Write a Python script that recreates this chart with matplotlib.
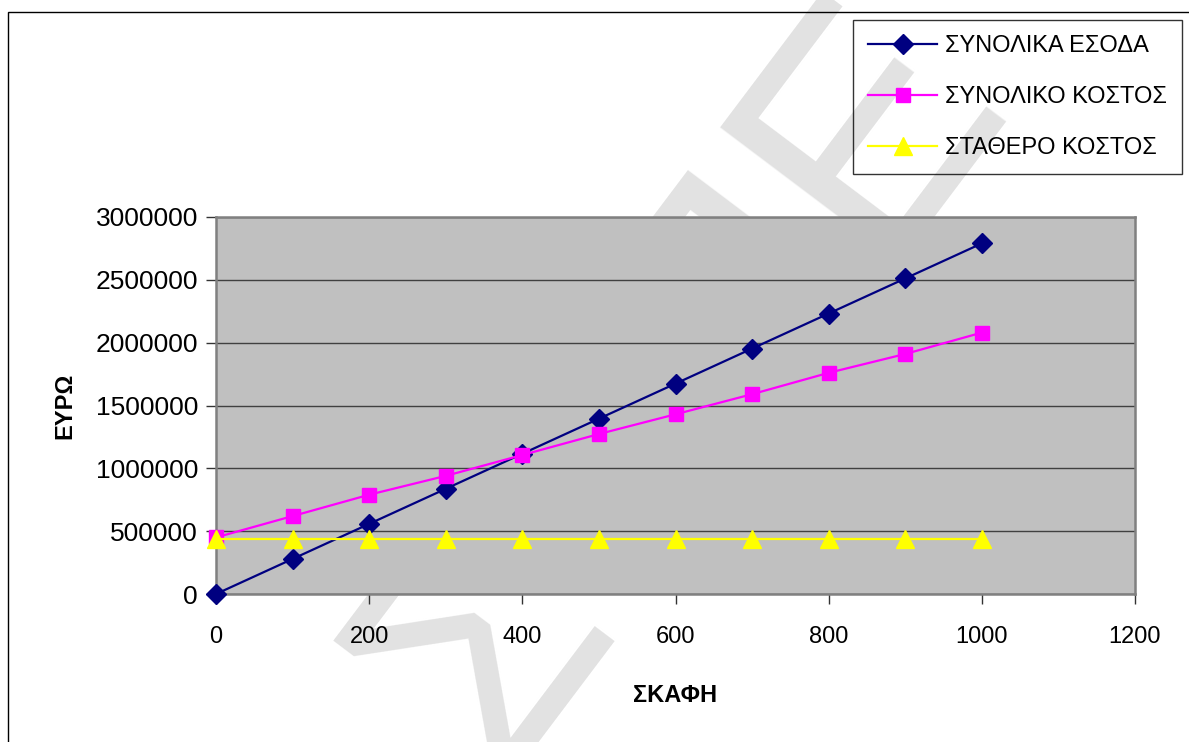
import matplotlib.pyplot as plt
from matplotlib.patches import Rectangle

plt.rcParams['font.family'] = ['Liberation Sans', 'DejaVu Sans']

# units of boats
skafi = [0, 100, 200, 300, 400, 500, 600, 700, 800, 900, 1000]
# total revenue
esoda = [0, 279000, 558000, 837000, 1116000, 1395000, 1674000, 1953000, 2232000, 2511000, 2790000]
# total cost
kostos = [450000, 620000, 790000, 940000, 1106000, 1273000, 1430000, 1590000, 1760000, 1910000, 2080000]
# fixed cost
stathero = [440000] * 11

xticks = [0, 200, 400, 600, 800, 1000, 1200]
yticks = [0, 500000, 1000000, 1500000, 2000000, 2500000, 3000000]

W, H = 1189, 742
fig = plt.figure(figsize=(W / 100, H / 100), dpi=100)
ax = fig.add_axes([216 / W, 1 - 594 / H, (1135 - 216) / W, (594 - 217) / H])
ax.set_facecolor('#c0c0c0')

ax.plot(skafi, esoda, color='#000080', lw=1.6, marker='D', ms=10, mfc='#000080', mec='#000080',
        label='ΣΥΝΟΛΙΚΑ ΕΣΟΔΑ', clip_on=False, zorder=3)
ax.plot(skafi, kostos, color='#ff00ff', lw=1.6, marker='s', ms=10.5, mfc='#ff00ff', mec='#ff00ff',
        label='ΣΥΝΟΛΙΚΟ ΚΟΣΤΟΣ', clip_on=False, zorder=3)
ax.plot(skafi, stathero, color='#ffff00', lw=1.6, marker='^', ms=12.5, mfc='#ffff00', mec='#ffff00',
        label='ΣΤΑΘΕΡΟ ΚΟΣΤΟΣ', clip_on=False, zorder=3)

ax.set_xlim(0, 1200)
ax.set_ylim(0, 3000000)
ax.set_xticks(xticks)
ax.set_xticklabels([str(v) for v in xticks], family=['Liberation Sans Narrow', 'Liberation Sans'],
                   fontsize=17)
ax.set_yticks(yticks)
ax.set_yticklabels([str(v) for v in yticks], fontsize=19)
ax.yaxis.grid(True, color='#404040', lw=1)
ax.set_axisbelow(True)
for s in ax.spines.values():
    s.set_color('#808080')
    s.set_linewidth(1.8)
ax.tick_params(direction='out', length=7, width=1, color='#333333')
ax.tick_params(axis='x', pad=16)
ax.tick_params(axis='y', pad=6)

ax.set_xlabel('ΣΚΑΦΗ', fontsize=17, fontweight='bold', labelpad=26)
ax.set_ylabel('ΕΥΡΩ', fontsize=17, fontweight='bold', labelpad=14)

leg = ax.legend(loc='upper left', bbox_to_anchor=(853 / W, 1 - 20 / H), bbox_transform=fig.transFigure,
                fontsize=17, frameon=True, fancybox=False, borderpad=0.65, labelspacing=1.22,
                handlelength=2.9, handletextpad=0.35, borderaxespad=0)
leg.get_frame().set_edgecolor('black')
leg.get_frame().set_linewidth(1)
leg.get_frame().set_facecolor('none')

# outer chart border
fig.patches.append(Rectangle((8 / W, -0.05), 1.1, 1 - 12 / H + 0.05, transform=fig.transFigure,
                             fill=False, edgecolor='black', lw=1))

# faint document watermark, behind the plot area
fig.text(0.575, 0.48, 'ΣΤΠΕ', fontsize=235, color='#e2e2e2', rotation=53,
         ha='center', va='center', zorder=-1)

fig.savefig('out.png', dpi=100)
